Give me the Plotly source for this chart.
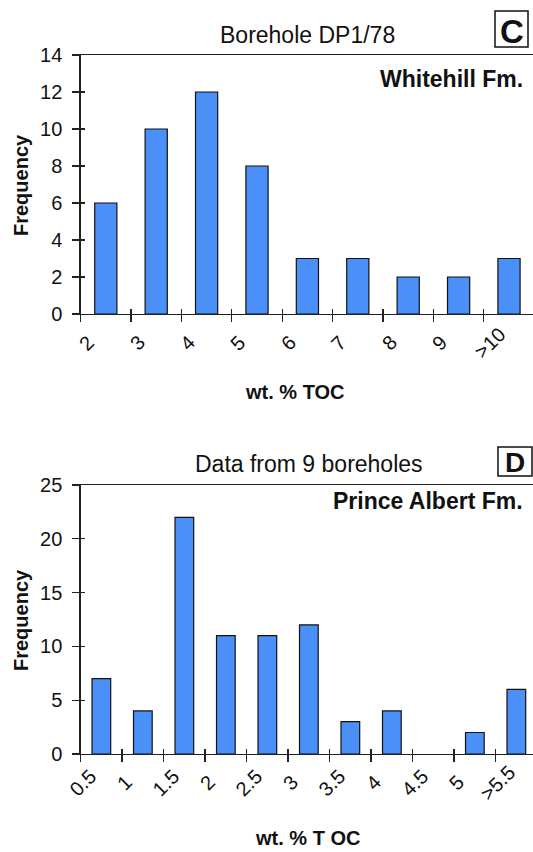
import plotly.graph_objects as go

# ---- data ----
c_bin_labels = ["2", "3", "4", "5", "6", "7", "8", "9", ">10"]
c_frequency = [6, 10, 12, 8, 3, 3, 2, 2, 3]

d_bin_labels = ["0.5", "1", "1.5", "2", "2.5", "3", "3.5", "4", "4.5", "5", ">5.5"]
d_frequency = [7, 4, 22, 11, 11, 12, 3, 4, 0, 2, 6]

c_yticks = [0, 2, 4, 6, 8, 10, 12, 14]
d_yticks = [0, 5, 10, 15, 20, 25]

# ---- style ----
W, H = 533, 852
FONT = "Liberation Sans, Arial, Helvetica, sans-serif"
BAR_COLOR = "#4a90f8"
AX_COLOR = "#222222"
TXT = "#111111"
PLOT_LEFT = 80.6

def px_x(p):
    return p / W

def px_y(p):
    return 1 - p / H

def dom_y(top_px, bottom_px):
    return [px_y(bottom_px), px_y(top_px)]

c_ydom = dom_y(55, 314)
d_ydom = dom_y(485, 754)
xdom = [px_x(PLOT_LEFT), 1.0]

c_bin_px = 50.4
d_bin_px = 41.5
c_range = [0, (W - PLOT_LEFT) / c_bin_px]
d_range = [0, (W - PLOT_LEFT) / d_bin_px]

fig = go.Figure()

def outline_widths(vals):
    return [1.2 if v > 0 else 0 for v in vals]

fig.add_trace(go.Bar(
    x=[i + 0.5 for i in range(len(c_frequency))], y=c_frequency,
    width=0.44, marker=dict(color=BAR_COLOR, line=dict(color=TXT, width=outline_widths(c_frequency))),
    xaxis="x", yaxis="y", showlegend=False, hoverinfo="y"))
fig.add_trace(go.Bar(
    x=[i + 0.5 for i in range(len(d_frequency))], y=d_frequency,
    width=0.45, marker=dict(color=BAR_COLOR, line=dict(color=TXT, width=outline_widths(d_frequency))),
    xaxis="x2", yaxis="y2", showlegend=False, hoverinfo="y"))
fig.add_trace(go.Scatter(x=[], y=[], xaxis="x3", yaxis="y3", showlegend=False))
fig.add_trace(go.Scatter(x=[], y=[], xaxis="x4", yaxis="y4", showlegend=False))

tickfont = dict(family=FONT, size=20, color=TXT)

def xaxis_main(labels, rng, anchor):
    return dict(
        domain=xdom, range=rng, anchor=anchor, automargin=False,
        tickmode="array", tickvals=list(range(len(labels))),
        showticklabels=False, ticks="outside", ticklen=7,
        tickcolor=AX_COLOR, tickwidth=1.3,
        showline=True, linecolor=AX_COLOR, linewidth=1.3, mirror=True,
        showgrid=False, zeroline=False, fixedrange=True,
    )

def yaxis_main(ticks, dom, anchor):
    return dict(
        domain=dom, range=[ticks[0], ticks[-1]], anchor=anchor, automargin=False,
        tickmode="array", tickvals=ticks, tickfont=tickfont,
        ticks="outside", ticklen=7, tickcolor=AX_COLOR, tickwidth=1.3,
        ticklabelstandoff=6,
        showline=True, linecolor=AX_COLOR, linewidth=1.3,
        showgrid=False, zeroline=False, fixedrange=True,
    )

def xaxis_inner(labels, rng, over, anchor):
    return dict(
        domain=xdom, range=rng, overlaying=over, anchor=anchor, automargin=False,
        tickmode="array", tickvals=list(range(len(labels))),
        ticks="inside", ticklen=5, tickcolor=AX_COLOR, tickwidth=1.3,
        showticklabels=False, showline=False, showgrid=False, zeroline=False,
        fixedrange=True,
    )

def yaxis_inner(ticks, dom, over, anchor):
    return dict(
        domain=dom, range=[ticks[0], ticks[-1]], overlaying=over, anchor=anchor,
        automargin=False,
        tickmode="array", tickvals=ticks,
        ticks="inside", ticklen=4, tickcolor=AX_COLOR, tickwidth=1.3,
        showticklabels=False, showline=False, showgrid=False, zeroline=False,
        fixedrange=True,
    )

fig.update_layout(
    width=W, height=H, autosize=False,
    margin=dict(l=0, r=0, t=0, b=0, pad=0, autoexpand=False),
    paper_bgcolor="white", plot_bgcolor="white",
    font=dict(family=FONT, color=TXT),
    bargap=0,
    xaxis=xaxis_main(c_bin_labels, c_range, "y"),
    yaxis=yaxis_main(c_yticks, c_ydom, "x"),
    xaxis2=xaxis_main(d_bin_labels, d_range, "y2"),
    yaxis2=yaxis_main(d_yticks, d_ydom, "x2"),
    xaxis3=xaxis_inner(c_bin_labels, c_range, "x", "y3"),
    yaxis3=yaxis_inner(c_yticks, c_ydom, "y", "x3"),
    xaxis4=xaxis_inner(d_bin_labels, d_range, "x2", "y4"),
    yaxis4=yaxis_inner(d_yticks, d_ydom, "y2", "x4"),
)

def label(text, x, y, size, bold=False, angle=0, xanchor="center", **kw):
    t = "<b>" + text + "</b>" if bold else text
    return dict(text=t, xref="paper", yref="paper", x=px_x(x), y=px_y(y),
                showarrow=False, textangle=angle,
                font=dict(family=FONT, size=size, color=TXT),
                xanchor=xanchor, yanchor="middle", **kw)

ann = [
    label("Frequency", 21, 185, 20, bold=True, angle=-90),
    label("Frequency", 21, 620, 20, bold=True, angle=-90),
    label("wt. % TOC", 295, 392, 20, bold=True),
    label("wt. % T OC", 307, 838, 20, bold=True),
    label("Borehole DP1/78", 307, 35, 23),
    label("Data from 9 boreholes", 309, 464, 23),
    label("Whitehill Fm.", 525, 79, 23, bold=True, xanchor="right"),
    label("Prince Albert Fm.", 525, 501, 23, bold=True, xanchor="right"),
    label("C", 511.5, 31, 33, bold=True),
    label("D", 515, 462, 28, bold=True),
]

# rotated bin-edge labels, positioned via the x axes' own data scale
for i, t in enumerate(c_bin_labels):
    ann.append(dict(text=t, xref="x", yref="paper", x=i, y=px_y(343), xshift=6,
                    showarrow=False, textangle=-45, xanchor="center", yanchor="middle",
                    font=dict(family=FONT, size=20, color=TXT)))
for i, t in enumerate(d_bin_labels):
    ann.append(dict(text=t, xref="x2", yref="paper", x=i, y=px_y(783), xshift=2,
                    showarrow=False, textangle=-45, xanchor="center", yanchor="middle",
                    font=dict(family=FONT, size=20, color=TXT)))

fig.update_layout(annotations=ann)

# boxes around the panel letters
box = dict(type="rect", xref="paper", yref="paper", line=dict(color=TXT, width=1.5),
           fillcolor="rgba(0,0,0,0)")
fig.add_shape(**box, x0=px_x(495), x1=px_x(528), y0=px_y(47), y1=px_y(11))
fig.add_shape(**box, x0=px_x(498), x1=px_x(532), y0=px_y(476), y1=px_y(447))

fig.write_html(
    "out.html",
    config={"displayModeBar": False, "staticPlot": True},
    post_script="document.body.style.margin='0px';document.body.style.overflow='hidden';",
)
